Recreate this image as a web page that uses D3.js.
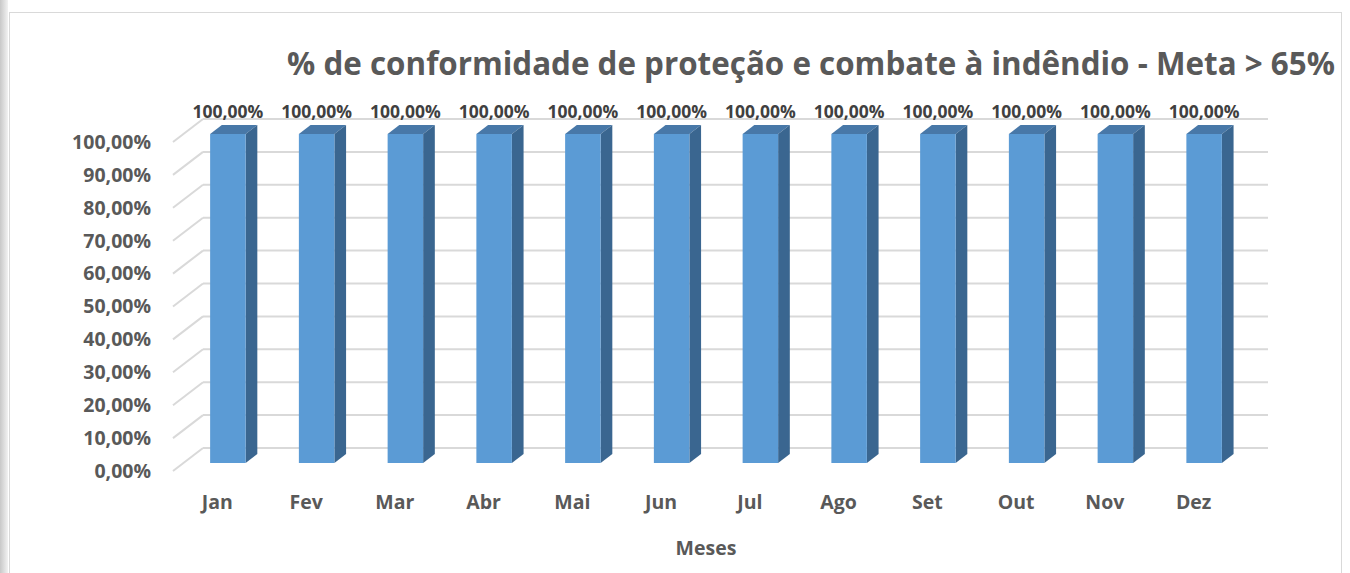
<!DOCTYPE html>
<html>
<head>
<meta charset="utf-8">
<script src="https://cdn.jsdelivr.net/npm/d3@7"></script>
<style>
  body { margin: 0; background: #fff; }
  svg text { font-family: "Open Sans", sans-serif; font-weight: bold; }
</style>
</head>
<body>
<svg id="chart" width="1350" height="573"></svg>
<script>
var months = ["Jan", "Fev", "Mar", "Abr", "Mai", "Jun", "Jul", "Ago", "Set", "Out", "Nov", "Dez"];
var values = [1, 1, 1, 1, 1, 1, 1, 1, 1, 1, 1, 1];
var ticks = [0, 0.1, 0.2, 0.3, 0.4, 0.5, 0.6, 0.7, 0.8, 0.9, 1];
var title = "% de conformidade de proteção e combate à indêndio - Meta > 65%";
var axisTitle = "Meses";

var svg = d3.select("#chart");
var width = 1350, height = 573;

// depth of the 3d box (back wall -> front plane)
var depthX = -30, depthY = 23;
var barBack = 0.26, barFront = 0.65;

function proj(x, y, d) {
    return [x + depthX * d, y + depthY * d];
}

var fmt = function(v) {
    return d3.format(".2f")(v * 100).replace(".", ",") + "%";
};

// window shadow on the left + frame
var grad = svg.append("defs").append("linearGradient").attr("id", "edge");
grad.append("stop").attr("offset", "0%").attr("stop-color", "#c8c8c8");
grad.append("stop").attr("offset", "100%").attr("stop-color", "#f2f2f2");
svg.append("rect").attr("x", 0).attr("y", 0).attr("width", 8).attr("height", height).attr("fill", "url(#edge)");
svg.append("rect").attr("x", 9.5).attr("y", 12.5).attr("width", 1332).attr("height", 600)
    .attr("fill", "#fff").attr("stroke", "#d9d9d9");

var x = d3.scaleBand()
    .domain(months)
    .range([203, 1268])
    .paddingInner(0.6)
    .paddingOuter(0.3);

var y = d3.scaleLinear()
    .domain([0, 1])
    .range([448, 119]);

// gridlines: back wall + left side wall
var grid = svg.append("g").attr("stroke", "#d9d9d9").attr("stroke-width", 2).attr("fill", "none");
grid.selectAll(".back").data(ticks).enter().append("line")
    .attr("x1", 203).attr("x2", 1268)
    .attr("y1", function(d) { return y(d); })
    .attr("y2", function(d) { return y(d); });
grid.selectAll(".side").data(ticks).enter().append("line")
    .attr("x1", 203).attr("y1", function(d) { return y(d); })
    .attr("x2", proj(203, 0, 1)[0]).attr("y2", function(d) { return proj(0, y(d), 1)[1]; });

// tick labels
svg.append("g").selectAll("text").data(ticks).enter().append("text")
    .attr("x", 151)
    .attr("y", function(d) { return proj(0, y(d), 1)[1]; })
    .attr("dy", "0.35em")
    .attr("text-anchor", "end")
    .attr("font-size", 19.5)
    .attr("fill", "#595959")
    .text(fmt);

// bars
var bars = svg.append("g").selectAll("g").data(values).enter().append("g");
function poly(pts) { return pts.map(function(p) { return p.join(","); }).join(" "); }

bars.append("polygon") // top
    .attr("fill", "#4878a8")
    .attr("points", function(d, i) {
        var x0 = x(months[i]), x1 = x0 + x.bandwidth(), yt = y(d);
        return poly([proj(x0, yt, barFront), proj(x1, yt, barFront), proj(x1, yt, barBack), proj(x0, yt, barBack)]);
    });
bars.append("polygon") // side
    .attr("fill", "#3a6690")
    .attr("points", function(d, i) {
        var x1 = x(months[i]) + x.bandwidth(), yt = y(d), yb = y(0);
        return poly([proj(x1, yt, barFront), proj(x1, yt, barBack), proj(x1, yb, barBack), proj(x1, yb, barFront)]);
    });
bars.append("polygon") // front
    .attr("fill", "#5b9bd5")
    .attr("points", function(d, i) {
        var x0 = x(months[i]), x1 = x0 + x.bandwidth(), yt = y(d), yb = y(0);
        return poly([proj(x0, yt, barFront), proj(x1, yt, barFront), proj(x1, yb, barFront), proj(x0, yb, barFront)]);
    });

// value labels
bars.append("text")
    .attr("x", function(d, i) { return proj(x(months[i]) + x.bandwidth() / 2, 0, barFront)[0]; })
    .attr("y", 118)
    .attr("text-anchor", "middle")
    .attr("font-size", 17.5)
    .attr("fill", "#404040")
    .text(fmt);

// month labels
svg.append("g").selectAll("text").data(months).enter().append("text")
    .attr("x", function(d) { return proj(x(d) + x.bandwidth() / 2, 0, 1)[0]; })
    .attr("y", 509)
    .attr("text-anchor", "middle")
    .attr("font-size", 19.5)
    .attr("fill", "#595959")
    .text(function(d) { return d; });

svg.append("text")
    .attr("x", 706).attr("y", 555)
    .attr("text-anchor", "middle")
    .attr("font-size", 19.5)
    .attr("fill", "#595959")
    .text(axisTitle);

// title, fitted to the reference width
var t = svg.append("text")
    .attr("x", 811).attr("y", 75)
    .attr("text-anchor", "middle")
    .attr("font-size", 31)
    .attr("fill", "#595959")
    .text(title);
var len = t.node().getComputedTextLength();
t.attr("font-size", 31 * 1048 / len);
</script>
</body>
</html>
